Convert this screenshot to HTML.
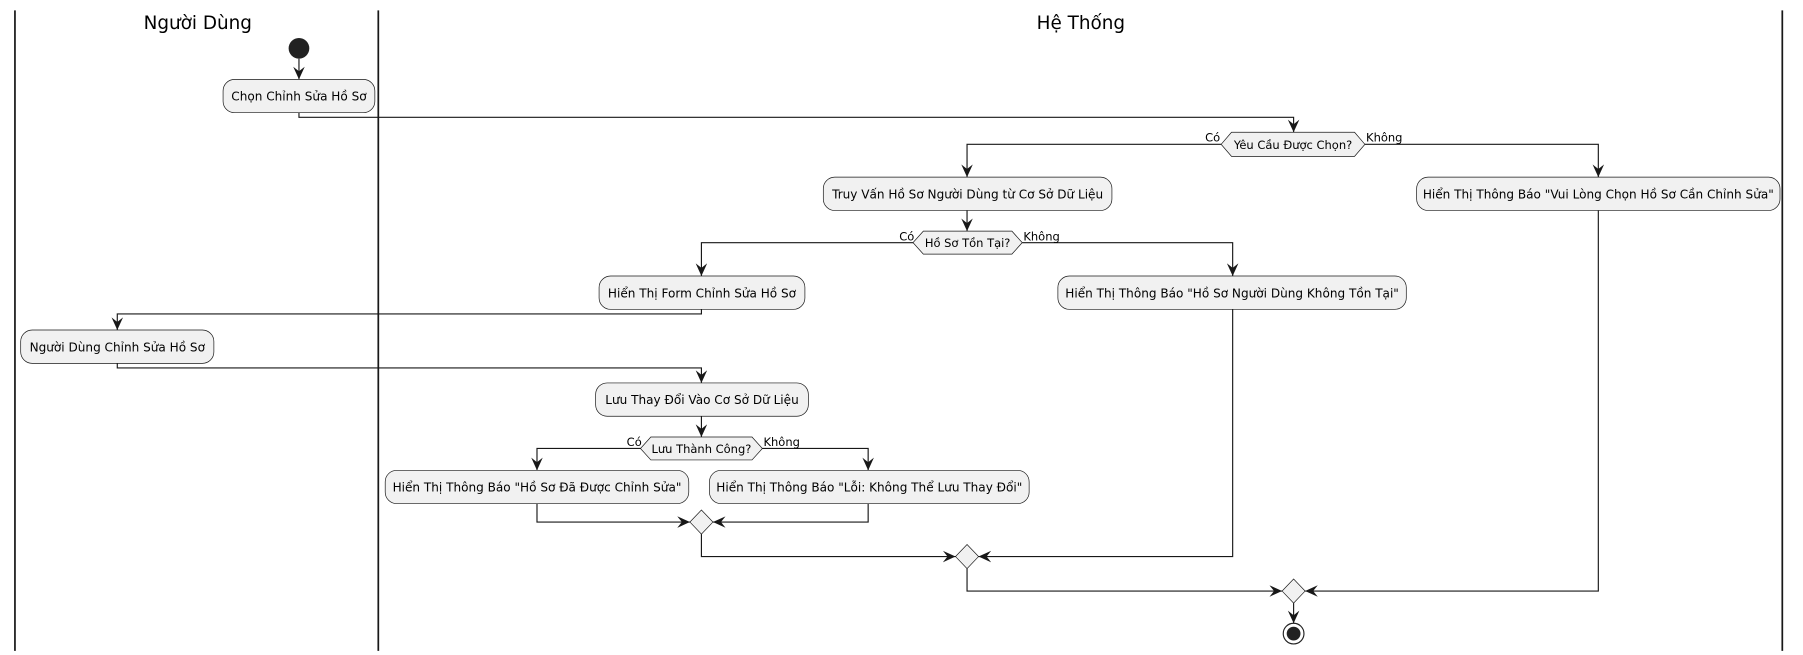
<!DOCTYPE html>
<html><head><meta charset="utf-8"><style>html,body{margin:0;padding:0;background:#fff}svg{display:block}</style></head><body>
<svg width="1803" height="655" viewBox="0 0 1568 569.6" xmlns="http://www.w3.org/2000/svg" font-family="'DejaVu Sans','Liberation Sans',sans-serif">
<defs>
<marker id="a" viewBox="0 0 12 12" refX="11" refY="6" markerWidth="12" markerHeight="12" markerUnits="userSpaceOnUse" orient="auto">
<path d="M0,1 L11,6 L0,11 L4,6 Z" fill="#181818"/>
</marker>
</defs>
<rect width="1568" height="570" fill="#fff"/>
<g stroke="#181818" stroke-width="1.5">
<line x1="13" y1="9" x2="13" y2="566"/><line x1="329" y1="9" x2="329" y2="566"/><line x1="1550" y1="9" x2="1550" y2="566"/>
</g>
<g font-size="16" fill="#000" text-anchor="middle">
<text x="172" y="25">Người Dùng</text><text x="940" y="25">Hệ Thống</text>
</g>
<circle cx="260" cy="42" r="9" fill="#222"/>
<g fill="none" stroke="#181818" stroke-width="1" marker-end="url(#a)">
<path d="M260,51 V69"/>
<path d="M260,98 V102 H1125 V115"/>
<path d="M1062,125.5 H841 V154"/>
<path d="M1187,125.5 H1390 V154"/>
<path d="M841,183 V201"/>
<path d="M794,211 H610 V240"/>
<path d="M889,211 H1072 V240"/>
<path d="M610,269 V273 H102 V287"/>
<path d="M102,316 V320 H610 V333"/>
<path d="M610,362 V380"/>
<path d="M557,390 H467 V409"/>
<path d="M663,390 H755 V409"/>
<path d="M467,438 V454 H600"/>
<path d="M755,438 V454 H620"/>
<path d="M610,464.5 V484 H831"/>
<path d="M1072,269 V484 H851"/>
<path d="M841,494.5 V514 H1115"/>
<path d="M1390,183 V514 H1135"/>
<path d="M1125,524.5 V542"/>
</g>
<g fill="#F1F1F1" stroke="#181818" stroke-width="0.6">
<rect x="194" y="69" width="132" height="29" rx="10"/>
<rect x="716" y="154" width="251" height="29" rx="10"/>
<rect x="1232" y="154" width="316" height="29" rx="10"/>
<rect x="521" y="240" width="179" height="29" rx="10"/>
<rect x="920" y="240" width="303" height="29" rx="10"/>
<rect x="18" y="287" width="168" height="29" rx="10"/>
<rect x="518" y="333" width="185" height="29" rx="10"/>
<rect x="335" y="409" width="264" height="29" rx="10"/>
<rect x="617" y="409" width="278" height="29" rx="10"/>
<polygon points="1062,125.5 1071,115 1178,115 1187,125.5 1178,136 1071,136"/>
<polygon points="794,211 803,201 880,201 889,211 880,221 803,221"/>
<polygon points="557,390 566,380 654,380 663,390 654,400 566,400"/>
<polygon points="610,443.5 620,454 610,464.5 600,454"/>
<polygon points="841,473.5 851,484 841,494.5 831,484"/>
<polygon points="1125,503.5 1135,514 1125,524.5 1115,514"/>
</g>
<circle cx="1125" cy="551" r="9" fill="#fff" stroke="#222" stroke-width="1"/>
<circle cx="1125" cy="551" r="6" fill="#222"/>
<g font-size="10.5" fill="#000" text-anchor="middle">
<text x="260" y="87.5">Chọn Chỉnh Sửa Hồ Sơ</text>
<text x="841.5" y="172.5">Truy Vấn Hồ Sơ Người Dùng từ Cơ Sở Dữ Liệu</text>
<text x="1390" y="172.5">Hiển Thị Thông Báo "Vui Lòng Chọn Hồ Sơ Cần Chỉnh Sửa"</text>
<text x="610.5" y="258.5">Hiển Thị Form Chỉnh Sửa Hồ Sơ</text>
<text x="1071.5" y="258.5">Hiển Thị Thông Báo "Hồ Sơ Người Dùng Không Tồn Tại"</text>
<text x="102" y="305.5">Người Dùng Chỉnh Sửa Hồ Sơ</text>
<text x="610.5" y="351.5">Lưu Thay Đổi Vào Cơ Sở Dữ Liệu</text>
<text x="467" y="427.5">Hiển Thị Thông Báo "Hồ Sơ Đã Được Chỉnh Sửa"</text>
<text x="756" y="427.5">Hiển Thị Thông Báo "Lỗi: Không Thể Lưu Thay Đổi"</text>
<text x="1124.5" y="129.5" font-size="10">Yêu Cầu Được Chọn?</text>
<text x="841.5" y="215" font-size="10">Hồ Sơ Tồn Tại?</text>
<text x="610" y="394" font-size="10">Lưu Thành Công?</text>
</g>
<g font-size="10" fill="#000">
<text x="1048" y="123">Có</text><text x="1188" y="123">Không</text>
<text x="782" y="209">Có</text><text x="890" y="209">Không</text>
<text x="545" y="388">Có</text><text x="664" y="388">Không</text>
</g>
</svg>
</body></html>
